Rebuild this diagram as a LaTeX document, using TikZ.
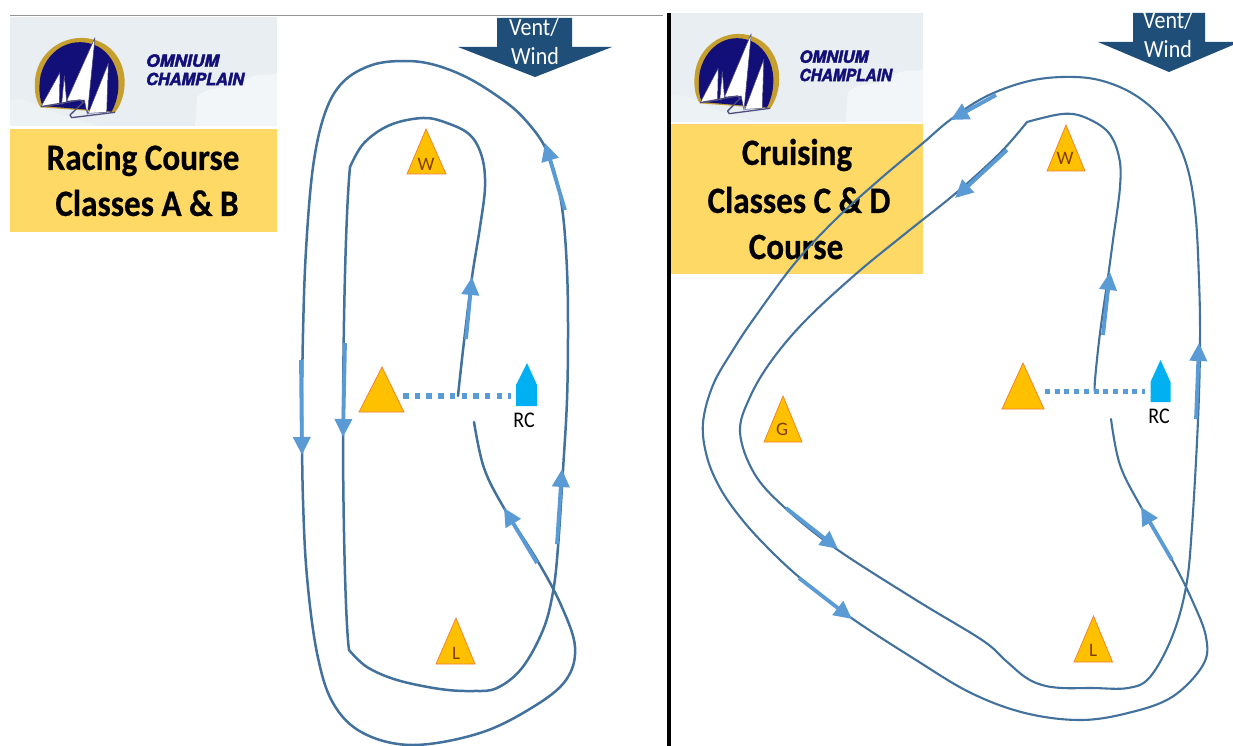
\documentclass[tikz,border=0pt]{standalone}
\usepackage{fontspec}
\setmainfont[BoldFeatures={FakeBold=0.6}]{Carlito}
\newfontfamily\logofont[BoldItalicFeatures={FakeBold=2.5}]{TeX Gyre Heros}
\usetikzlibrary{arrows.meta}
\definecolor{curveblue}{HTML}{41719C}
\definecolor{arrowblue}{HTML}{5B9BD5}
\definecolor{winddark}{HTML}{1F4E79}
\definecolor{markfill}{HTML}{FFC000}
\definecolor{markedge}{HTML}{ED7D31}
\definecolor{boatblue}{HTML}{00B0F0}
\definecolor{titlefill}{HTML}{FFD966}
\definecolor{skyfill}{HTML}{E8EEF2}
\definecolor{logonavy}{HTML}{120F78}
\definecolor{logogold}{HTML}{C6A02F}
\definecolor{marktext}{HTML}{7F3F00}
\tikzset{
  course/.style={draw=curveblue,line width=2.5pt,line join=round,line cap=round},
  dirarrow/.style={draw=arrowblue,line width=3.8pt,-{Triangle[length=18pt,width=17pt,fill=arrowblue]}},
  markshape/.style={fill=markfill,draw=markedge,line width=.7pt,line join=miter},
  marklabel/.style={text=marktext,font=\fontsize{19}{19}\selectfont,inner sep=0pt},
  boatshape/.style={fill=boatblue,draw=none},
  startline/.style={draw=arrowblue,line width=5.5pt,dash pattern=on 5.5pt off 6.2pt},
  titlebox/.style={fill=titlefill,draw=none},
  titletext/.style={font=\fontsize{33.2}{33}\selectfont\bfseries,text=black,inner sep=0pt},
  windshape/.style={fill=winddark,draw=none},
  windtext/.style={text=white,font=\fontsize{22}{22}\selectfont,inner sep=0pt},
  rctext/.style={text=black,font=\fontsize{20}{20}\selectfont,inner sep=0pt},
  logotext/.style={text=logonavy,font=\logofont\fontsize{50}{50}\selectfont\bfseries\itshape,inner sep=0pt,anchor=west,transform shape},
  sailshape/.style={fill=white,draw=gray!50!logonavy,line width=.5pt,line join=round},
}
\newcommand{\talltext}[1]{\scalebox{1}[1.12]{#1}}
\newcommand{\logopanel}[3]{%
  \begin{scope}[shift={(#1,#2)},xscale=#3,yscale=.3333]
    \begin{scope}
      \clip (30,52) rectangle (831,378);
      \fill[skyfill] (30,52) rectangle (831,378);
      \fill[white,opacity=.25] (30,378) -- (30,300) .. controls (80,285) and (120,330) .. (200,350) -- (300,378) -- cycle;
      \fill[white,opacity=.5] (585,378) -- (592,290) .. controls (620,255) and (690,275) .. (745,235) .. controls (780,215) and (810,230) .. (831,220) -- (831,378) -- cycle;
    \end{scope}
    \fill[logogold] (345,338) .. controls (395,270) and (380,165) .. (305,128) .. controls (230,90) and (130,130) .. (108,220) .. controls (100,260) and (105,300) .. (122,322) -- cycle;
    \fill[logonavy] (335,335) .. controls (370,270) and (362,180) .. (295,140) .. controls (225,105) and (145,140) .. (122,225) .. controls (115,265) and (118,295) .. (128,318) -- cycle;
    \path[sailshape] (123,320) -- (180,217) -- (178,313) -- cycle;
    \path[sailshape] (185,313) -- (193,227) -- (200,305) -- cycle;
    \path[sailshape] (200,303) -- (285,113) -- (262,343) -- (253,300) -- cycle;
    \path[sailshape] (265,340) -- (325,190) -- (320,337) -- cycle;
    \draw[gray!55!logonavy,line width=1.3pt,line join=round] (123,320) -- (240,300) -- (250,307) -- (210,345) -- (215,353) -- (345,337);
    \node[logotext] at (438,182) {\scalebox{1.05}[1]{OMNIUM}};
    \node[logotext] at (438,237) {\scalebox{.98}[1]{CHAMPLAIN}};
  \end{scope}%
}
\begin{document}
\begin{tikzpicture}[x=1pt,y=-1pt]
\useasboundingbox (0,0) rectangle (1233,746);
\fill[white] (0,0) rectangle (1233,746);

% frame lines
\draw[gray!85,line width=1pt] (10,16) -- (663,16);
\fill[black] (666.5,13) rectangle (671,746);

% left panel
\logopanel{0}{0}{.3333}
\fill[titlebox] (10,129) rectangle (277,232);
\node[titletext] (ltitleA) at (143,160) {\talltext{Racing Course}};
\node[titletext] (ltitleB) at (147,203) {\talltext{Classes A \& B}};

\fill[windshape] (497,18) -- (572,18) -- (572,47) -- (612,47) -- (535,77) -- (458,47) -- (497,47) -- cycle;
\begin{scope}
  \clip (440,18) rectangle (630,90);
  \node[windtext] (lvent) at (534,27) {\talltext{Vent/}};
  \node[windtext] (lwind) at (535,56) {\talltext{Wind}};
\end{scope}

\draw[course] plot[smooth,tension=.6] coordinates {
 (474,422) (484,468) (504,508) (537,560) (561,605) (575,647) (566,680) (533,707) (480,733) (413,745) (363,733) (333,703) (317,653) (307,577) (303,500) (302,420) (303,333) (306,250) (313,167) (325,113) (343,82) (372,65) (405,61) (435,65) (470,79) (507,103) (528,123) (545,147) (556,178) (563,215) (567,270) (568,330) (567,400) (563,470) (558,547) (553,592) (543,630) (522,668) (497,688) (473,691) (440,689) (397,680) (367,667) (349,650)};
\draw[course] (349,650) .. controls (345,620) and (343,500) .. (343,437) .. controls (343,350) and (345,220) .. (350,167);
\draw[course] plot[smooth,tension=.6] coordinates {
 (350,167) (364,143) (390,125) (423,118) (447,123) (470,135) (482,157) (485,187) (480,227) (472,277) (465,333) (460,377) (458,396)};

\draw[markshape] (407,174) -- (426,129) -- (446,174) -- cycle;
\node[marklabel] (lw) at (426,164) {W};
\draw[markshape] (359,412) -- (382,367) -- (404,412) -- cycle;
\draw[markshape] (436,664) -- (456,618) -- (475,664) -- cycle;
\node[marklabel] (ll) at (456,653) {L};
\fill[boatshape] (516,406) -- (516,385) -- (527,363) -- (537,385) -- (537,406) -- cycle;
\node[rctext] (lrc) at (524,420) {\talltext{RC}};
\draw[startline] (403,396) -- (511,396);

\draw[dirarrow] (565,210) -- (545,143);
\draw[dirarrow] (466,339) -- (472,277);
\draw[dirarrow] (301,360) -- (302,455);
\draw[dirarrow] (345,343) -- (343,437);
\draw[dirarrow] (537,563) -- (504,508);
\draw[dirarrow] (557,544) -- (562,469);

% right panel
\logopanel{661.56}{-4}{.3146}
\fill[titlebox] (671,124) rectangle (923,274);
\node[titletext] (rtitleA) at (797,155) {\talltext{Cruising}};
\node[titletext] (rtitleB) at (799,200) {\talltext{Classes C \& D}};
\node[titletext] (rtitleC) at (796,247) {\talltext{Course}};

\fill[windshape] (1133,13) -- (1205,13) -- (1205,42) -- (1240,42) -- (1169,72) -- (1098,42) -- (1133,42) -- cycle;
\begin{scope}
  \clip (1090,13) rectangle (1233,90);
  \node[windtext] (rvent) at (1168,20) {\talltext{Vent/}};
  \node[windtext] (rwind) at (1168,49) {\talltext{Wind}};
\end{scope}

\draw[course,line width=2.1pt] plot[smooth,tension=.6] coordinates {
 (1111,419) (1120,465) (1141,507) (1172,560) (1192,600) (1206,637) (1203,665) (1172,697) (1128,713) (1080,720) (1025,713) (971,693) (916,660) (850,617) (799,577) (765,545) (740,517) (720,488) (707,457) (703,423) (713,385) (733,350) (755,317) (795,263) (835,220) (879,180) (923,143) (950,120) (985,97) (1025,82) (1062,77) (1099,80) (1135,95) (1165,122) (1185,160) (1195,210) (1199,280) (1200,343) (1198,420) (1192,527) (1186,587) (1172,637) (1150,677) (1128,688) (1092,688) (1062,688) (1042,685) (1025,677) (1005,660) (982,640) (916,600) (835,548) (784,507) (754,473) (740,432) (750,397) (772,360) (806,320) (857,273) (906,233) (956,193) (1000,153) (1027,122)};
\draw[course,line width=2.1pt] plot[smooth,tension=.6] coordinates {
 (1027,122) (1062,114) (1084,117) (1108,132) (1119,157) (1120,187) (1113,240) (1108,277) (1100,333) (1095,380) (1095,392)};

\draw[markshape] (1047,171) -- (1066,125) -- (1085,171) -- cycle;
\node[marklabel] (rw) at (1065,158) {W};
\draw[markshape] (1002,409) -- (1023,363) -- (1044,409) -- cycle;
\draw[markshape] (764,442) -- (783,396) -- (802,442) -- cycle;
\node[marklabel] (rg) at (782,429) {G};
\draw[markshape] (1074,662) -- (1093.5,616) -- (1112.5,662) -- cycle;
\node[marklabel] (rl) at (1093,650) {L};
\fill[boatshape] (1150.5,402) -- (1150.5,382) -- (1160.5,360) -- (1170.5,382) -- (1170.5,402) -- cycle;
\node[rctext] (rrc) at (1159,416) {\talltext{RC}};
\draw[startline,line width=5pt,dash pattern=on 5pt off 4.7pt] (1045,391) -- (1145,391);

\draw[dirarrow] (996,95) -- (950.6,120);
\draw[dirarrow] (1007,150) -- (955,198);
\draw[dirarrow] (1103,335) -- (1110,272);
\draw[dirarrow] (1196,419) -- (1199,343);
\draw[dirarrow] (786,508) -- (838,549);
\draw[dirarrow] (799,578) -- (852,619);
\draw[dirarrow] (1172,560) -- (1141,507);
\end{tikzpicture}
\end{document}
